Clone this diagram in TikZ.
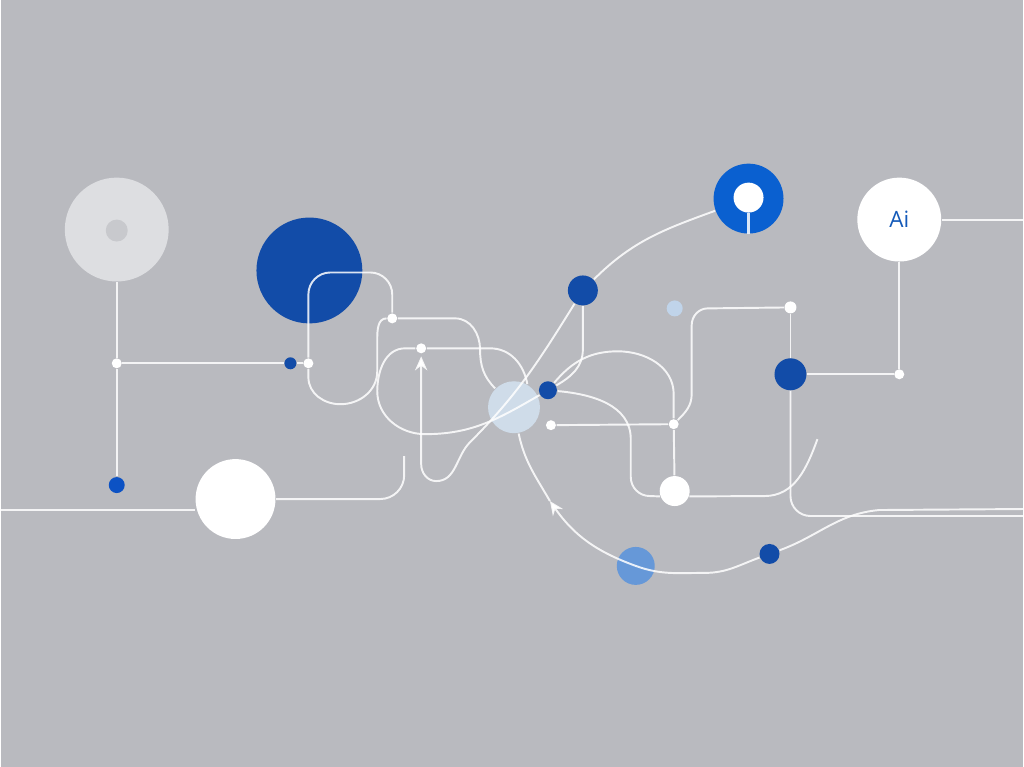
\documentclass[tikz,border=0pt]{standalone}
\usepackage{fontspec}
\newfontfamily\aifont{Open Sans}
\usetikzlibrary{arrows.meta}
\definecolor{bgc}{RGB}{185,186,191}
\definecolor{haloc}{RGB}{221,222,225}
\definecolor{haloin}{RGB}{200,201,205}
\definecolor{navyc}{RGB}{18,76,168}
\definecolor{ringc}{RGB}{10,96,208}
\definecolor{dotc}{RGB}{12,82,196}
\definecolor{hubc}{RGB}{207,220,233}
\definecolor{midc}{RGB}{102,152,216}
\definecolor{palec}{RGB}{192,212,234}
\definecolor{aic}{RGB}{20,90,185}
\begin{document}
\begin{tikzpicture}[x=0.01cm, y=-0.01cm,
  disc/.style={circle, inner sep=0pt, minimum size=#1},
  wire/.style={draw=white, draw opacity=0.85, line width=0.55pt},
  arrowed/.style={-{Stealth[length=4pt,width=3.5pt]}}]
  \fill[bgc] (0,0) rectangle (1024,768);

  % big circles
  \node[disc=1.04cm, fill=haloc] (halo) at (116,230) {};
  \node[disc=0.22cm, fill=haloin] (haloC) at (116,231) {};
  \node[disc=1.06cm, fill=navyc] (navy) at (309,271) {};
  \node[disc=0.80cm, fill=white] (wbig) at (235,500) {};
  \node[disc=0.52cm, fill=hubc] (hub) at (514,408) {};
  \node[disc=0.38cm, fill=midc] (mid) at (636,567) {};
  \node[disc=0.70cm, fill=ringc] (ring) at (749,199) {};
  \node[disc=0.30cm, fill=white] (ringC) at (749,198) {};
  \node[disc=0.84cm, fill=white, text=aic, font=\aifont\fontsize{6.4}{7}\selectfont] (ai) at (900,220) {Ai};

  % dots
  \node[disc=0.10cm, fill=white] (j1) at (116,364) {};
  \node[disc=0.16cm, fill=dotc] (bl) at (116,486) {};
  \node[disc=0.12cm, fill=navyc] (bs) at (290,364) {};
  \node[disc=0.10cm, fill=white] (j2) at (308,364) {};
  \node[disc=0.10cm, fill=white] (j3) at (392,319) {};
  \node[disc=0.10cm, fill=white] (j4) at (421,349) {};
  \node[disc=0.18cm, fill=navyc] (bd) at (548,391) {};
  \node[disc=0.10cm, fill=white] (j5) at (551,426) {};
  \node[disc=0.30cm, fill=navyc] (mb) at (583,291) {};
  \node[disc=0.16cm, fill=palec] (pd) at (675,309) {};
  \node[disc=0.10cm, fill=white] (j6) at (674,425) {};
  \node[disc=0.30cm, fill=white] (wc) at (675,492) {};
  \node[disc=0.12cm, fill=white] (j7) at (791,308) {};
  \node[disc=0.32cm, fill=navyc] (nb) at (791,375) {};
  \node[disc=0.10cm, fill=white] (j8) at (900,375) {};
  \node[disc=0.20cm, fill=navyc] (sb) at (770,555) {};

  % loose ends
  \coordinate (eL) at (0,511);
  \coordinate (eA) at (1024,220);
  \coordinate (eB) at (1024,510);
  \coordinate (eC) at (1024,517);
  \coordinate (eD) at (818,440);
  \coordinate (eE) at (404,457);
  \coordinate (ar) at (421,357);
  \coordinate (m1) at (550,502);

  % left side
  \draw[wire] (halo) -- (j1);
  \draw[wire] (j1) -- (bl);
  \draw[wire] (j1) -- (bs);
  \draw[wire] (bs) -- (j2);
  \draw[wire, rounded corners=0.22cm] (j2) -- (308,273) -- (392,273) -- (j3);
  \draw[wire] (j2) -- (308,378) to[out=-90,in=180] (340,405) to[out=0,in=-90] (377,372) -- (377,340) to[out=90,in=180] (j3);
  \draw[wire] (eL) -- (wbig.west |- eL);
  \draw[wire] (wbig.east) -- (380,500) to[out=0,in=-90] (404,476) -- (eE);

  % middle
  \draw[wire] (j3) -- (455,319) to[out=0,in=90] (480,350) to[out=-90,in=135] (hub.135);
  \draw[wire] (j4) -- (490,349) to[out=0,in=100] (hub.60);
  \draw[wire] (j4) -- (405,349) to[out=180,in=90] (377,392) to[out=-90,in=180] (425,435) to[out=0,in=210] (bd);
  \draw[wire, arrowed] (mb) to[out=-122,in=45] (470,443) to[out=-135,in=0] (436,482) to[out=180,in=-90] (421,465) -- (ar);
  \draw[wire] (mb) -- (583,350) to[out=-90,in=30] (bd);
  \draw[wire] (mb) to[out=45,in=200] (ring);
  \draw[wire, line width=1pt] (ringC) -- (ring.south);
  \draw[wire] (bd) to[out=50,in=180] (618,352) to[out=0,in=90] (674,395) -- (j6);
  \draw[wire] (bd) to[out=-5,in=90] (631,440) -- (631,478) to[out=-90,in=180] (650,497) -- (wc.200);
  \draw[wire] (j5) -- (j6);
  \draw[wire] (j6) -- (wc);

  % right side
  \draw[wire] (j6) to[out=45,in=-90] (692,395) -- (692,326) to[out=90,in=180] (708,309) -- (j7);
  \draw[wire] (j7) -- (nb);
  \draw[wire] (nb) -- (j8);
  \draw[wire] (j8) -- (ai);
  \draw[wire] (ai) -- (eA);
  \draw[wire] (nb) -- (791,497) to[out=-90,in=180] (811,517) -- (eC);
  \draw[wire] (wc.-20) -- (765,497) to[out=0,in=-110] (eD);

  % lower arc
  \draw[wire] (hub.-80) to[out=-78,in=120] (m1);
  \draw[wire, arrowed] (sb) to[out=200,in=0] (705,574) to[out=180,in=-20] (mid.center) to[out=160,in=-55] (m1);
  \draw[wire] (sb) to[out=20,in=185] (880,511) -- (eB);
\end{tikzpicture}
\end{document}
